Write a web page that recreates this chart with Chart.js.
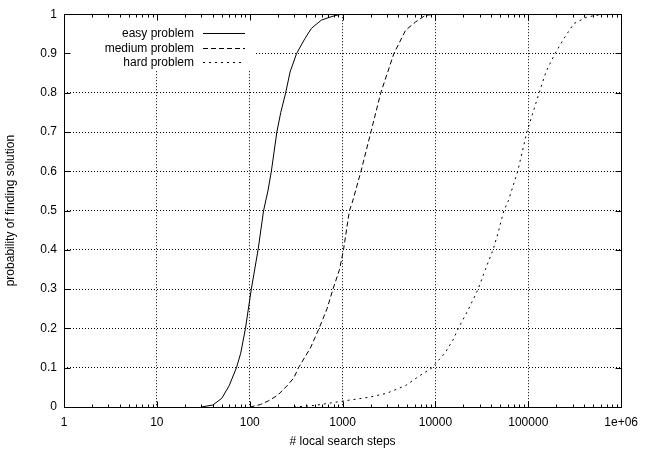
<!DOCTYPE html>
<html>
<head>
<meta charset="utf-8">
<script src="https://cdn.jsdelivr.net/npm/chart.js@4.4.1/dist/chart.umd.min.js"></script>
<style>
html, body { margin: 0; padding: 0; background: #fff; }
</style>
</head>
<body>
<canvas id="chart9" width="646" height="450"></canvas>
<script>
// axis ticks
var xTickValues = [1, 10, 100, 1000, 10000, 100000, 1000000];
var xTickLabels = ['1', '10', '100', '1000', '10000', '100000', '1e+06'];
var yTickValues = [0, 0.1, 0.2, 0.3, 0.4, 0.5, 0.6, 0.7, 0.8, 0.9, 1];
var yTickLabels = ['0', '0.1', '0.2', '0.3', '0.4', '0.5', '0.6', '0.7', '0.8', '0.9', '1'];

var seriesNames = ['easy problem', 'medium problem', 'hard problem'];

// (steps, probability)
var easySteps = [30, 40, 50, 60, 72, 80, 90, 104, 123, 141, 157, 171, 196, 216, 244, 272, 320, 393, 462, 591, 788, 966];
var easyProb  = [0, 0.005, 0.022, 0.054, 0.1, 0.137, 0.2, 0.3, 0.4, 0.5, 0.55, 0.6, 0.7, 0.75, 0.8, 0.853, 0.9, 0.938, 0.964, 0.985, 0.995, 1];

var mediumSteps = [100, 130, 160, 200, 255, 300, 335, 450, 558, 680, 788, 927, 1023, 1186, 1270, 1578, 2018, 2580, 3570, 4770, 6090, 7780, 10000];
var mediumProb  = [0, 0.006, 0.016, 0.03, 0.055, 0.075, 0.1, 0.15, 0.2, 0.25, 0.3, 0.35, 0.4, 0.5, 0.52, 0.6, 0.7, 0.8, 0.9, 0.959, 0.98, 0.997, 1];

var hardSteps = [300, 500, 1000, 1950, 3000, 4800, 6600, 9200, 12600, 15400, 17600, 22500, 28800, 35400, 41700, 47100, 54600, 61000, 76900, 96500, 131000, 155000, 194000, 242000, 309000, 429000, 646000];
var hardProb  = [0, 0.004, 0.015, 0.025, 0.035, 0.055, 0.078, 0.1, 0.137, 0.17, 0.2, 0.247, 0.3, 0.357, 0.4, 0.442, 0.5, 0.525, 0.6, 0.7, 0.8, 0.853, 0.9, 0.938, 0.976, 0.993, 1];

function toPoints(xs, ys) {
    var pts = [];
    for (var i = 0; i < xs.length; i++) pts.push({ x: xs[i], y: ys[i] });
    return pts;
}

Chart.defaults.font.family = "'Liberation Sans', Arial, sans-serif";
Chart.defaults.font.size = 12;
Chart.defaults.color = '#000';

// box, inward tics and the key (gnuplot look)
var gnuFrame = {
    id: 'gnuFrame',
    beforeDatasetsDraw: function(chart) {
        var a = chart.chartArea, ctx = chart.ctx;
        ctx.save();
        ctx.fillStyle = '#fff';
        ctx.fillRect(a.left + 1, a.top + 1, 189, 55); // key hides the grid
        ctx.restore();
    },
    afterDatasetsDraw: function(chart) {
        var a = chart.chartArea, ctx = chart.ctx;
        var xs = chart.scales.x, ys = chart.scales.y;
        var L = Math.round(a.left) + 0.5, R = Math.round(a.right) + 0.5;
        var T = Math.round(a.top) + 0.5, B = Math.round(a.bottom) + 0.5;
        ctx.save();
        ctx.strokeStyle = '#000';
        ctx.lineWidth = 1;
        ctx.setLineDash([]);
        ctx.beginPath();
        for (var d = 0; d < xTickValues.length; d++) {
            var px = Math.round(xs.getPixelForValue(xTickValues[d])) + 0.5;
            ctx.moveTo(px, B); ctx.lineTo(px, B - 6);
            ctx.moveTo(px, T); ctx.lineTo(px, T + 6);
            if (d < xTickValues.length - 1) {
                for (var k = 2; k <= 9; k++) {
                    var mx = Math.round(xs.getPixelForValue(k * xTickValues[d])) + 0.5;
                    ctx.moveTo(mx, B); ctx.lineTo(mx, B - 3);
                    ctx.moveTo(mx, T); ctx.lineTo(mx, T + 3);
                }
            }
        }
        for (var j = 0; j < yTickValues.length; j++) {
            var py = Math.round(ys.getPixelForValue(yTickValues[j])) + 0.5;
            ctx.moveTo(L, py); ctx.lineTo(L + 6, py);
            ctx.moveTo(R, py); ctx.lineTo(R - 6, py);
        }
        ctx.stroke();
        ctx.strokeRect(L, T, R - L, B - T);

        // key
        ctx.font = "12px 'Liberation Sans', Arial, sans-serif";
        ctx.fillStyle = '#000';
        ctx.textAlign = 'right';
        ctx.textBaseline = 'middle';
        var sets = chart.data.datasets;
        for (var i = 0; i < sets.length; i++) {
            var ky = Math.round(a.top + 19 + i * 14.3) + 0.5;
            ctx.fillText(sets[i].label, a.left + 130, ky);
            ctx.setLineDash(sets[i].borderDash || []);
            ctx.beginPath();
            ctx.moveTo(a.left + 139, ky);
            ctx.lineTo(a.left + 181, ky);
            ctx.stroke();
        }
        ctx.restore();
    }
};

var ctx = document.getElementById('chart9').getContext('2d');
var chart = new Chart(ctx, {
    type: 'line',
    data: {
        datasets: [{
            label: seriesNames[0],
            data: toPoints(easySteps, easyProb),
            borderColor: '#000',
            borderWidth: 1,
            pointRadius: 0
        }, {
            label: seriesNames[1],
            data: toPoints(mediumSteps, mediumProb),
            borderColor: '#000',
            borderWidth: 1,
            borderDash: [5, 3],
            pointRadius: 0
        }, {
            label: seriesNames[2],
            data: toPoints(hardSteps, hardProb),
            borderColor: '#000',
            borderWidth: 1,
            borderDash: [2, 4],
            pointRadius: 0
        }]
    },
    options: {
        responsive: false,
        animation: false,
        devicePixelRatio: 1,
        layout: { padding: { left: 0, right: 18, top: 14, bottom: 0 } },
        plugins: {
            legend: { display: false },
            tooltip: { enabled: false }
        },
        scales: {
            x: {
                type: 'logarithmic',
                min: 1,
                max: 1000000,
                afterBuildTicks: function(s) {
                    s.ticks = xTickValues.map(function(v) { return { value: v }; });
                },
                afterFit: function(s) { s.height = 43; },
                ticks: {
                    autoSkip: false,
                    maxRotation: 0,
                    padding: 8,
                    callback: function(v, i) { return xTickLabels[i]; }
                },
                grid: { color: '#000', lineWidth: 1, drawTicks: false, borderDash: [1, 2] },
                border: { display: false, dash: [1, 2] },
                title: {
                    display: true,
                    text: '# local search steps',
                    padding: { top: 0, bottom: 1 }
                }
            },
            y: {
                type: 'linear',
                min: 0,
                max: 1,
                afterBuildTicks: function(s) {
                    s.ticks = yTickValues.map(function(v) { return { value: v }; });
                },
                afterFit: function(s) { s.width = 64; },
                ticks: {
                    padding: 7,
                    callback: function(v, i) { return yTickLabels[i]; }
                },
                grid: { color: '#000', lineWidth: 1, drawTicks: false, borderDash: [1, 2] },
                border: { display: false, dash: [1, 2] },
                title: {
                    display: true,
                    text: 'probability of finding solution',
                    padding: { top: 3, bottom: 0 }
                }
            }
        }
    },
    plugins: [gnuFrame]
});
</script>
</body>
</html>
